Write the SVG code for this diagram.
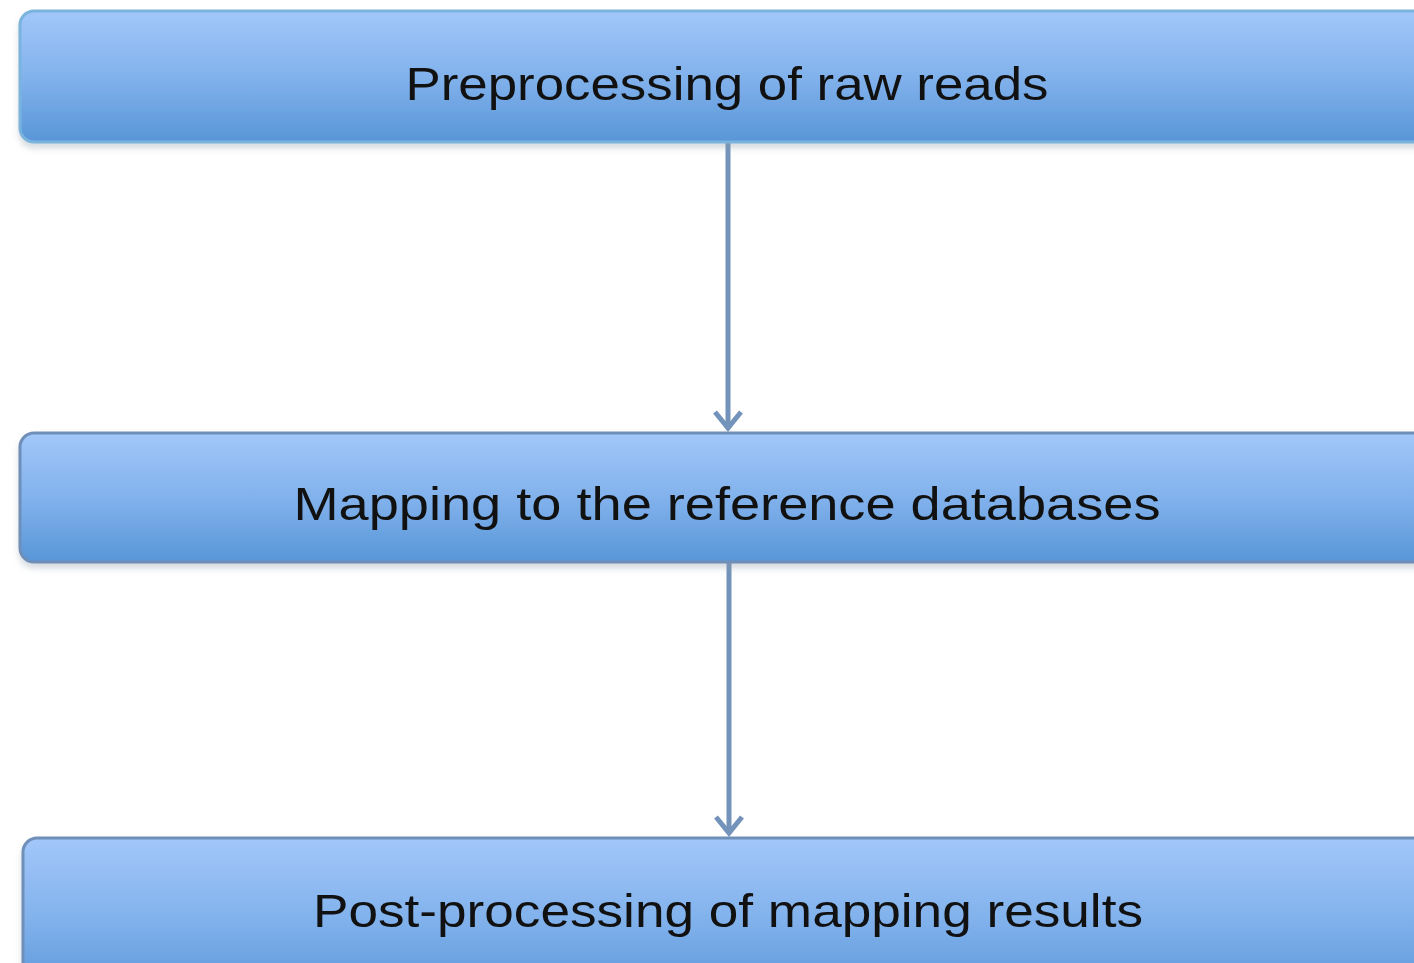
<svg xmlns="http://www.w3.org/2000/svg" width="1414" height="963" viewBox="0 0 1414 963">
<style>
.box{fill:url(#g);stroke:#6f8fb8;stroke-width:3}
.lbl{font-family:"Liberation Sans","Open Sans",sans-serif;font-size:47px;fill:#111;text-anchor:middle}
.conn{stroke:#7393bb;stroke-width:5;fill:none}
</style>
<defs>
<linearGradient id="g" x1="0" y1="0" x2="0" y2="1">
<stop offset="0" stop-color="#a2c7fa"/>
<stop offset="0.5" stop-color="#82b2ec"/>
<stop offset="1" stop-color="#5896d8"/>
</linearGradient>
<filter id="sh" x="-5%" y="-10%" width="110%" height="130%">
<feDropShadow dx="0" dy="5" stdDeviation="3" flood-color="#8a9aa8" flood-opacity="0.35"/>
</filter>
<marker id="ah" markerWidth="24" markerHeight="32" refX="20" refY="16" orient="auto" markerUnits="userSpaceOnUse">
<path d="M4,3 L20,16 L4,29" fill="none" stroke="#7393bb" stroke-width="5"/>
</marker>
</defs>
<rect width="1414" height="963" fill="#fff"/>
<g id="connectors">
<line class="conn" x1="728" y1="143" x2="728" y2="428" marker-end="url(#ah)"/>
<line class="conn" x1="729" y1="563" x2="729" y2="833" marker-end="url(#ah)"/>
</g>
<g id="node1">
<rect class="box" x="20" y="11" width="1420" height="131" rx="14" filter="url(#sh)" style="stroke:#7ab4dc"/>
<text class="lbl" x="727" y="100" textLength="643" lengthAdjust="spacingAndGlyphs">Preprocessing of raw reads</text>
</g>
<g id="node2">
<rect class="box" x="20" y="433" width="1420" height="129" rx="14" filter="url(#sh)"/>
<text class="lbl" x="727" y="520" textLength="867" lengthAdjust="spacingAndGlyphs">Mapping to the reference databases</text>
</g>
<g id="node3">
<rect class="box" x="23" y="838" width="1420" height="160" rx="14" filter="url(#sh)"/>
<text class="lbl" x="728" y="927" textLength="830" lengthAdjust="spacingAndGlyphs">Post-processing of mapping results</text>
</g>
</svg>
